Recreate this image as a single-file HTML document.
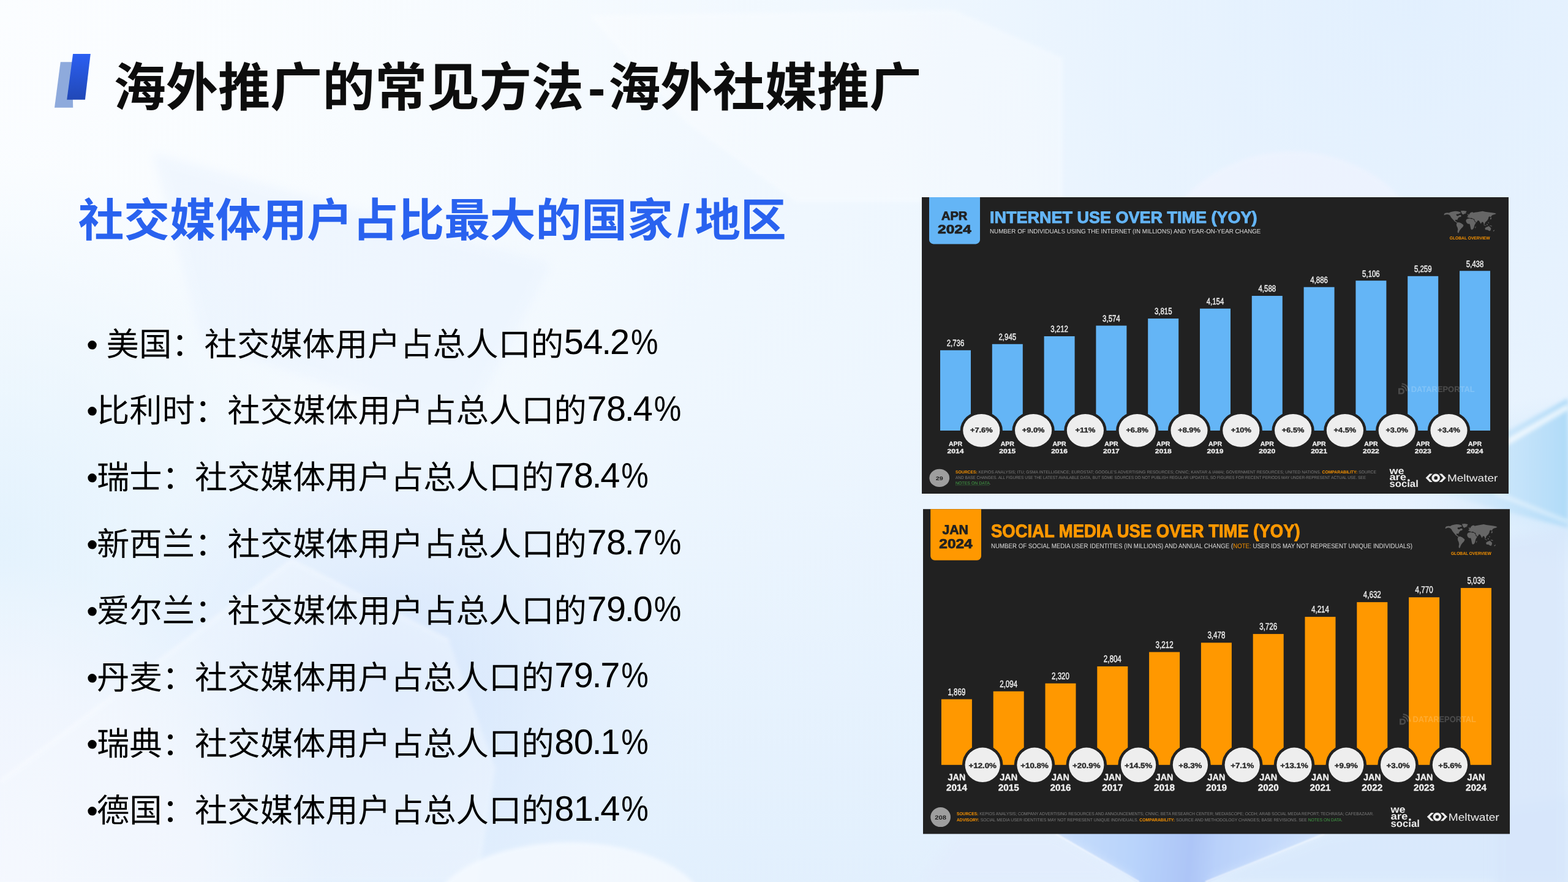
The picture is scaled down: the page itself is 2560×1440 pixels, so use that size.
<!DOCTYPE html>
<html lang="zh-CN"><head><meta charset="utf-8"><title>海外推广的常见方法-海外社媒推广</title>
<style>
html,body{margin:0;padding:0;}
body{width:2560px;height:1440px;overflow:hidden;position:relative;background:#eef5fe;font-family:"Liberation Sans",sans-serif;}
h1,h2,ul,li,figure{margin:0;padding:0;list-style:none;font-weight:normal;}
.layer,.gl{position:absolute;display:block;will-change:transform;}
.layer{left:0;top:0;}
svg text{font-family:"Liberation Sans",sans-serif;text-rendering:geometricPrecision;}
svg text.cjk{font-family:"Liberation Sans","Noto Sans CJK SC",sans-serif;}
.sr{position:absolute;white-space:nowrap;line-height:1.3;color:transparent;font-family:"Liberation Sans",sans-serif;}
.b{font-weight:bold;}
</style></head><body>

<svg class="layer" width="2560" height="1440" viewBox="0 0 2560 1440" aria-hidden="true">
<defs>
<linearGradient id="bgBase" x1="0" y1="0" x2="1" y2="0.55">
<stop offset="0" stop-color="#f8fcff"/><stop offset="0.5" stop-color="#eff7fe"/><stop offset="1" stop-color="#e8f3fe"/>
</linearGradient>
<linearGradient id="bgDown" x1="0" y1="0" x2="0" y2="1">
<stop offset="0.45" stop-color="#e3f0fd" stop-opacity="0"/><stop offset="1" stop-color="#e1effd" stop-opacity="0.9"/>
</linearGradient>
<radialGradient id="bgTL" cx="0" cy="0" r="1250" gradientUnits="userSpaceOnUse">
<stop offset="0" stop-color="#fbfdff" stop-opacity="0.95"/><stop offset="1" stop-color="#fbfdff" stop-opacity="0"/>
</radialGradient>
<radialGradient id="bgMid" cx="640" cy="1130" r="480" gradientUnits="userSpaceOnUse">
<stop offset="0" stop-color="#d3e4fc" stop-opacity="0.95"/><stop offset="1" stop-color="#deebfd" stop-opacity="0"/>
</radialGradient>
<radialGradient id="bgL" cx="0" cy="880" r="620" gradientUnits="userSpaceOnUse">
<stop offset="0" stop-color="#e3f2fd" stop-opacity="0.95"/><stop offset="1" stop-color="#e6f3fd" stop-opacity="0"/>
</radialGradient>
<radialGradient id="bgBL" cx="0" cy="1440" r="520" gradientUnits="userSpaceOnUse">
<stop offset="0" stop-color="#f4f7fe" stop-opacity="1"/><stop offset="0.6" stop-color="#f2f6fe" stop-opacity="0.8"/><stop offset="1" stop-color="#f2f6fe" stop-opacity="0"/>
</radialGradient>
<radialGradient id="bgR">
<stop offset="0" stop-color="#b0d8f9" stop-opacity="1"/><stop offset="0.5" stop-color="#bfe0fa" stop-opacity="0.75"/><stop offset="1" stop-color="#cfe8fc" stop-opacity="0"/>
</radialGradient>
<radialGradient id="bgTR" cx="2300" cy="0" r="900" gradientUnits="userSpaceOnUse">
<stop offset="0" stop-color="#e1effe" stop-opacity="0.9"/><stop offset="1" stop-color="#e1effe" stop-opacity="0"/>
</radialGradient>
<linearGradient id="bgWedge" x1="2330" y1="0" x2="2560" y2="0" gradientUnits="userSpaceOnUse">
<stop offset="0" stop-color="#cfe8fb" stop-opacity="0"/><stop offset="0.55" stop-color="#c6e4fa" stop-opacity="0.8"/><stop offset="1" stop-color="#b0dbf8" stop-opacity="1"/>
</linearGradient>
<linearGradient id="bgBR" x1="1724" y1="1380" x2="2162" y2="1420" gradientUnits="userSpaceOnUse">
<stop offset="0" stop-color="#c8defc"/><stop offset="0.3" stop-color="#b8d3fb"/><stop offset="0.5" stop-color="#adc5f7"/><stop offset="0.6" stop-color="#b9d1fa"/><stop offset="1" stop-color="#cfe2fc"/>
</linearGradient>
<filter id="blur8" x="-20%" y="-20%" width="140%" height="140%"><feGaussianBlur stdDeviation="8"/></filter>
<filter id="blur1" x="-5%" y="-20%" width="110%" height="140%"><feGaussianBlur stdDeviation="1.2"/></filter>
<filter id="blur3" x="-20%" y="-20%" width="140%" height="140%"><feGaussianBlur stdDeviation="3"/></filter>
</defs>
<rect width="2560" height="1440" fill="url(#bgBase)"/>
<rect width="2560" height="1440" fill="url(#bgDown)"/>
<rect width="2560" height="1440" fill="url(#bgTL)"/>
<rect width="2560" height="1440" fill="url(#bgTR)"/>
<rect width="2560" height="1440" fill="url(#bgL)"/>
<rect width="2560" height="1440" fill="url(#bgMid)"/>
<rect width="2560" height="1440" fill="url(#bgBL)"/>
<ellipse cx="2620" cy="790" rx="330" ry="150" fill="url(#bgR)" opacity="0.55"/>
<polygon points="2300,792 2560,650 2560,862" fill="url(#bgWedge)" filter="url(#blur3)"/>
<path d="M2440 734L2560 664" stroke="#ffffff" stroke-width="9" opacity="0.7" fill="none" filter="url(#blur3)"/>
<path d="M2440 804L2560 852" stroke="#ffffff" stroke-width="7" opacity="0.4" fill="none" filter="url(#blur3)"/>
<polygon points="962,25 1557,16 1735,94 1735,330 1300,330 1120,200" fill="#ffffff" opacity="0.32" filter="url(#blur3)"/>
<circle cx="2110" cy="492" r="245" fill="#f7f5fe" opacity="0.4" filter="url(#blur3)"/>
<polygon points="250,250 900,430 760,700 330,560" fill="#e8f2fe" opacity="0.5" filter="url(#blur8)"/>
<polygon points="0,1276 476,915 733,1046 809,1254 780,1440 0,1440" fill="#f6faff" opacity="0.38" filter="url(#blur3)"/>
<path d="M0 1276L476 915L733 1046" stroke="#ffffff" stroke-width="3" opacity="0.55" fill="none" filter="url(#blur3)"/>
<ellipse cx="930" cy="1500" rx="230" ry="125" fill="#f6faff" opacity="0.8" filter="url(#blur3)"/>
<polygon points="1724,1360 2162,1360 1968,1442 1860,1442" fill="url(#bgBR)" filter="url(#blur1)"/>
<path d="M1724 1362L1860 1440M2162 1362L1968 1440" stroke="#ffffff" stroke-width="2.5" opacity="0.75" fill="none" filter="url(#blur1)"/>
<polygon points="1560,1362 1724,1362 1860,1440 1500,1440" fill="#e2edfd" opacity="0.8" filter="url(#blur8)"/>
<polygon points="2162,1362 2560,1300 2560,1440 1968,1440" fill="#d8e8fc" opacity="0.8" filter="url(#blur8)"/>
<polygon points="2440,880 2560,860 2560,1460 2440,1460" fill="#d7e6fb" opacity="0.7" filter="url(#blur8)"/>
</svg>

<svg class="layer" width="2560" height="1440" viewBox="0 0 2560 1440" aria-hidden="true">
<defs><linearGradient id="tIcon" x1="0" y1="0" x2="0" y2="1"><stop offset="0" stop-color="#2b5ff2"/><stop offset="1" stop-color="#2148b6"/></linearGradient></defs>
<polygon points="98.8,101.2 118,101.2 119.2,175.8 89,175.8" fill="#8eaadc"/>
<polygon points="119.1,88.1 147.8,88.1 138.9,162.7 109.2,162.7" fill="url(#tIcon)"/>
</svg>
<h1><svg class="gl" style="left:170px;top:80px" width="1360" height="120" viewBox="170 80 1360 120"><text class="cjk b" y="172.5" font-size="85.3" fill="#0d0d0d"><tspan x="185.4">海外推广的常见方法</tspan><tspan x="959.9">-</tspan><tspan x="992.9">海外社媒推广</tspan></text></svg><span class="sr" style="left:187px;top:82px;font-size:85.3px;font-weight:bold">海外推广的常见方法-海外社媒推广</span></h1>
<h2><svg class="gl" style="left:110px;top:300px" width="1200" height="110" viewBox="110 300 1200 110"><text class="cjk b" y="385.8" font-size="74.7" fill="#2962ef"><tspan x="127.7">社交媒体用户占比最大的国家</tspan><tspan x="1105.6">/</tspan><tspan x="1134.3">地区</tspan></text></svg><span class="sr" style="left:128px;top:306px;font-size:74.7px;font-weight:bold">社交媒体用户占比最大的国家/地区</span></h2>
<ul>
<li><svg class="gl" style="left:130px;top:509px" width="860" height="100" viewBox="130 509 860 100"><text class="cjk" x="150.7" y="580.57" font-size="53.33" fill="#000" text-anchor="middle">•</text><text class="cjk" x="173.6" y="580.57" font-size="53.33" fill="#000">美国：社交媒体用户占总人口的</text></svg><span class="sr" style="left:143px;top:523.7px;font-size:53.3px">• 美国：社交媒体用户占总人口的</span><svg class="gl" style="left:917px;top:509px" width="180" height="100" viewBox="917 509 180 100"><text x="936.81 968.31 990.16 1012.01" y="578.3" text-anchor="middle" font-size="57.7">54.2</text><text x="1029.96" y="578.3" font-size="57.7" textLength="44.5" lengthAdjust="spacingAndGlyphs">%</text></svg></li>
<li><svg class="gl" style="left:130px;top:618px" width="860" height="100" viewBox="130 618 860 100"><text class="cjk" x="150.7" y="689.37" font-size="53.33" fill="#000" text-anchor="middle">•</text><text class="cjk" x="158" y="689.37" font-size="53.33" fill="#000">比利时：社交媒体用户占总人口的</text></svg><span class="sr" style="left:143px;top:632.5px;font-size:53.3px">•比利时：社交媒体用户占总人口的</span><svg class="gl" style="left:954px;top:618px" width="180" height="100" viewBox="954 618 180 100"><text x="974.54 1006.04 1027.89 1049.74" y="687.1" text-anchor="middle" font-size="57.7">78.4</text><text x="1067.69" y="687.1" font-size="57.7" textLength="44.5" lengthAdjust="spacingAndGlyphs">%</text></svg></li>
<li><svg class="gl" style="left:130px;top:727px" width="860" height="100" viewBox="130 727 860 100"><text class="cjk" x="150.7" y="798.17" font-size="53.33" fill="#000" text-anchor="middle">•</text><text class="cjk" x="158" y="798.17" font-size="53.33" fill="#000">瑞士：社交媒体用户占总人口的</text></svg><span class="sr" style="left:143px;top:741.3px;font-size:53.3px">•瑞士：社交媒体用户占总人口的</span><svg class="gl" style="left:901px;top:727px" width="180" height="100" viewBox="901 727 180 100"><text x="921.21 952.71 974.56 996.41" y="795.9" text-anchor="middle" font-size="57.7">78.4</text><text x="1014.36" y="795.9" font-size="57.7" textLength="44.5" lengthAdjust="spacingAndGlyphs">%</text></svg></li>
<li><svg class="gl" style="left:130px;top:836px" width="860" height="100" viewBox="130 836 860 100"><text class="cjk" x="150.7" y="906.97" font-size="53.33" fill="#000" text-anchor="middle">•</text><text class="cjk" x="158" y="906.97" font-size="53.33" fill="#000">新西兰：社交媒体用户占总人口的</text></svg><span class="sr" style="left:143px;top:850.1px;font-size:53.3px">•新西兰：社交媒体用户占总人口的</span><svg class="gl" style="left:954px;top:836px" width="180" height="100" viewBox="954 836 180 100"><text x="974.54 1006.04 1027.89 1049.74" y="904.7" text-anchor="middle" font-size="57.7">78.7</text><text x="1067.69" y="904.7" font-size="57.7" textLength="44.5" lengthAdjust="spacingAndGlyphs">%</text></svg></li>
<li><svg class="gl" style="left:130px;top:944px" width="860" height="100" viewBox="130 944 860 100"><text class="cjk" x="150.7" y="1015.77" font-size="53.33" fill="#000" text-anchor="middle">•</text><text class="cjk" x="158" y="1015.77" font-size="53.33" fill="#000">爱尔兰：社交媒体用户占总人口的</text></svg><span class="sr" style="left:143px;top:958.9px;font-size:53.3px">•爱尔兰：社交媒体用户占总人口的</span><svg class="gl" style="left:954px;top:944px" width="180" height="100" viewBox="954 944 180 100"><text x="974.54 1006.04 1027.89 1049.74" y="1013.5" text-anchor="middle" font-size="57.7">79.0</text><text x="1067.69" y="1013.5" font-size="57.7" textLength="44.5" lengthAdjust="spacingAndGlyphs">%</text></svg></li>
<li><svg class="gl" style="left:130px;top:1053px" width="860" height="100" viewBox="130 1053 860 100"><text class="cjk" x="150.7" y="1124.57" font-size="53.33" fill="#000" text-anchor="middle">•</text><text class="cjk" x="158" y="1124.57" font-size="53.33" fill="#000">丹麦：社交媒体用户占总人口的</text></svg><span class="sr" style="left:143px;top:1067.7px;font-size:53.3px">•丹麦：社交媒体用户占总人口的</span><svg class="gl" style="left:901px;top:1053px" width="180" height="100" viewBox="901 1053 180 100"><text x="921.21 952.71 974.56 996.41" y="1122.3" text-anchor="middle" font-size="57.7">79.7</text><text x="1014.36" y="1122.3" font-size="57.7" textLength="44.5" lengthAdjust="spacingAndGlyphs">%</text></svg></li>
<li><svg class="gl" style="left:130px;top:1162px" width="860" height="100" viewBox="130 1162 860 100"><text class="cjk" x="150.7" y="1233.37" font-size="53.33" fill="#000" text-anchor="middle">•</text><text class="cjk" x="158" y="1233.37" font-size="53.33" fill="#000">瑞典：社交媒体用户占总人口的</text></svg><span class="sr" style="left:143px;top:1176.5px;font-size:53.3px">•瑞典：社交媒体用户占总人口的</span><svg class="gl" style="left:901px;top:1162px" width="180" height="100" viewBox="901 1162 180 100"><text x="921.21 952.71 974.56 996.41" y="1231.1" text-anchor="middle" font-size="57.7">80.1</text><text x="1014.36" y="1231.1" font-size="57.7" textLength="44.5" lengthAdjust="spacingAndGlyphs">%</text></svg></li>
<li><svg class="gl" style="left:130px;top:1271px" width="860" height="100" viewBox="130 1271 860 100"><text class="cjk" x="150.7" y="1342.17" font-size="53.33" fill="#000" text-anchor="middle">•</text><text class="cjk" x="158" y="1342.17" font-size="53.33" fill="#000">德国：社交媒体用户占总人口的</text></svg><span class="sr" style="left:143px;top:1285.3px;font-size:53.3px">•德国：社交媒体用户占总人口的</span><svg class="gl" style="left:901px;top:1271px" width="180" height="100" viewBox="901 1271 180 100"><text x="921.21 952.71 974.56 996.41" y="1339.9" text-anchor="middle" font-size="57.7">81.4</text><text x="1014.36" y="1339.9" font-size="57.7" textLength="44.5" lengthAdjust="spacingAndGlyphs">%</text></svg></li>
</ul>
<figure><svg class="gl" style="left:1500px;top:316px" width="970" height="496" viewBox="1500 316 970 496"><rect x="1505" y="322" width="958" height="484" fill="#212121"/>
<path d="M1517 322H1600V391.4a7 7 0 0 1 -7 7H1524a7 7 0 0 1 -7 -7z" fill="#64b5f6"/>
<text x="1536.9" y="358.9" font-size="19.8" fill="#212121" textLength="42.5" lengthAdjust="spacingAndGlyphs" class="b" stroke="#212121" stroke-width="0.8" stroke-linejoin="round">APR</text>
<text x="1531" y="380.6" font-size="19.8" fill="#212121" textLength="54.6" lengthAdjust="spacingAndGlyphs" class="b" stroke="#212121" stroke-width="0.8" stroke-linejoin="round">2024</text>
<text x="1616" y="363.9" font-size="26.8" fill="#64b5f6" textLength="436.6" lengthAdjust="spacingAndGlyphs" class="b" stroke="#64b5f6" stroke-width="1" stroke-linejoin="round">INTERNET USE OVER TIME (YOY)</text>
<text x="1616" y="380.6" font-size="10.2" fill="#dcdcdc" textLength="442.4" lengthAdjust="spacingAndGlyphs">NUMBER OF INDIVIDUALS USING THE INTERNET (IN MILLIONS) AND YEAR-ON-YEAR CHANGE</text>
<g fill="#666" transform="translate(2357.3 343.9) scale(0.07066 0.06465)"><polygon points="5,90 23,63 75,53 120,57 155,35 215,21 265,13 315,17 355,30 390,45 380,70 350,75 335,90 305,85 285,100 295,125 325,135 355,115 390,110 405,135 390,155 355,165 335,185 320,210 310,237 295,230 260,233 263,257 287,275 307,291 321,305 305,309 275,287 245,267 223,237 195,207 165,167 145,127 115,103 75,93 35,103 5,117"/><polygon points="390,7 455,0 527,13 517,40 490,70 450,97 425,85 407,50"/><polygon points="305,305 345,295 395,315 445,355 455,375 435,415 405,445 375,485 355,525 340,565 320,560 315,525 325,475 315,425 295,385 290,345"/><polygon points="545,175 540,150 565,135 555,115 585,100 595,75 625,45 665,35 685,55 715,45 775,35 855,20 895,15 955,30 1035,40 1115,50 1185,65 1210,80 1175,95 1135,105 1105,125 1085,165 1055,145 1035,165 1025,205 1005,245 975,275 955,295 945,335 925,345 915,305 895,285 875,295 855,335 835,295 815,255 785,245 765,285 745,295 715,255 705,215 675,205 655,190 625,185 605,195 585,175 575,190 560,165"/><polygon points="515,235 535,210 585,200 625,205 675,215 700,245 715,285 745,305 725,335 705,375 695,425 675,465 645,485 625,465 615,415 605,365 595,335 555,335 525,305 510,265"/><polygon points="725,405 740,395 735,435 720,445"/><polygon points="955,435 985,415 1015,405 1035,390 1065,415 1090,445 1085,485 1065,515 1035,505 1005,485 965,485 950,460"/><polygon points="1140,500 1175,485 1165,510 1140,530"/><polygon points="915,345 955,365 985,380 955,380 920,360"/><polygon points="985,335 1015,345 1010,370 990,360"/><polygon points="1025,285 1040,295 1035,325 1023,310"/><polygon points="1055,370 1105,380 1115,400 1070,390"/><polygon points="1075,185 1095,165 1100,205 1080,225 1070,215"/><polygon points="550,85 565,80 567,115 550,120"/><polygon points="495,65 515,63 513,75 495,77"/></g>
<text x="2366.8" y="391" font-size="7" fill="#f59100" textLength="65.8" lengthAdjust="spacingAndGlyphs" class="b">GLOBAL OVERVIEW</text>
<rect x="1535" y="571.81" width="50" height="131.19" fill="#64b5f6"/>
<rect x="1619.8" y="561.79" width="50" height="141.21" fill="#64b5f6"/>
<rect x="1704.6" y="548.98" width="50" height="154.02" fill="#64b5f6"/>
<rect x="1789.4" y="531.63" width="50" height="171.37" fill="#64b5f6"/>
<rect x="1874.2" y="520.07" width="50" height="182.93" fill="#64b5f6"/>
<rect x="1959" y="503.82" width="50" height="199.18" fill="#64b5f6"/>
<rect x="2043.8" y="483.01" width="50" height="219.99" fill="#64b5f6"/>
<rect x="2128.6" y="468.72" width="50" height="234.28" fill="#64b5f6"/>
<rect x="2213.4" y="458.17" width="50" height="244.83" fill="#64b5f6"/>
<rect x="2298.2" y="450.83" width="50" height="252.17" fill="#64b5f6"/>
<rect x="2383" y="442.25" width="50" height="260.75" fill="#64b5f6"/>
<g opacity="0.19" fill="#fff"><path d="M2283 633.8h5.2a4.9 4.9 0 0 1 0 9.8h-5.2z M2285.6 636.2v5h2.4a2.5 2.5 0 0 0 0-5z" fill-rule="evenodd"/><path d="M2288.2 630.2a8.6 8.6 0 0 1 8 8.4" fill="none" stroke="#fff" stroke-width="2.2"/><path d="M2288.6 626.5a12.4 12.4 0 0 1 11.6 12.1" fill="none" stroke="#fff" stroke-width="2.2"/><text x="2303.7" y="639.8" font-size="13.4" fill="#fff" textLength="103.9" lengthAdjust="spacingAndGlyphs" class="b">DATAREPORTAL</text></g>
<text x="1560" y="565.21" font-size="14.8" fill="#ededed" text-anchor="middle" textLength="28.6" lengthAdjust="spacingAndGlyphs" stroke="#ededed" stroke-width="0.45" stroke-linejoin="round">2,736</text>
<text x="1560" y="727.8" font-size="10.2" fill="#ededed" text-anchor="middle" textLength="22.2" lengthAdjust="spacingAndGlyphs" class="b" stroke="#ededed" stroke-width="0.3" stroke-linejoin="round">APR</text>
<text x="1560" y="740" font-size="10.2" fill="#ededed" text-anchor="middle" textLength="26.9" lengthAdjust="spacingAndGlyphs" class="b" stroke="#ededed" stroke-width="0.3" stroke-linejoin="round">2014</text>
<text x="1644.8" y="555.19" font-size="14.8" fill="#ededed" text-anchor="middle" textLength="28.6" lengthAdjust="spacingAndGlyphs" stroke="#ededed" stroke-width="0.45" stroke-linejoin="round">2,945</text>
<text x="1644.8" y="727.8" font-size="10.2" fill="#ededed" text-anchor="middle" textLength="22.2" lengthAdjust="spacingAndGlyphs" class="b" stroke="#ededed" stroke-width="0.3" stroke-linejoin="round">APR</text>
<text x="1644.8" y="740" font-size="10.2" fill="#ededed" text-anchor="middle" textLength="26.9" lengthAdjust="spacingAndGlyphs" class="b" stroke="#ededed" stroke-width="0.3" stroke-linejoin="round">2015</text>
<text x="1729.6" y="542.38" font-size="14.8" fill="#ededed" text-anchor="middle" textLength="28.6" lengthAdjust="spacingAndGlyphs" stroke="#ededed" stroke-width="0.45" stroke-linejoin="round">3,212</text>
<text x="1729.6" y="727.8" font-size="10.2" fill="#ededed" text-anchor="middle" textLength="22.2" lengthAdjust="spacingAndGlyphs" class="b" stroke="#ededed" stroke-width="0.3" stroke-linejoin="round">APR</text>
<text x="1729.6" y="740" font-size="10.2" fill="#ededed" text-anchor="middle" textLength="26.9" lengthAdjust="spacingAndGlyphs" class="b" stroke="#ededed" stroke-width="0.3" stroke-linejoin="round">2016</text>
<text x="1814.4" y="525.03" font-size="14.8" fill="#ededed" text-anchor="middle" textLength="28.6" lengthAdjust="spacingAndGlyphs" stroke="#ededed" stroke-width="0.45" stroke-linejoin="round">3,574</text>
<text x="1814.4" y="727.8" font-size="10.2" fill="#ededed" text-anchor="middle" textLength="22.2" lengthAdjust="spacingAndGlyphs" class="b" stroke="#ededed" stroke-width="0.3" stroke-linejoin="round">APR</text>
<text x="1814.4" y="740" font-size="10.2" fill="#ededed" text-anchor="middle" textLength="26.9" lengthAdjust="spacingAndGlyphs" class="b" stroke="#ededed" stroke-width="0.3" stroke-linejoin="round">2017</text>
<text x="1899.2" y="513.47" font-size="14.8" fill="#ededed" text-anchor="middle" textLength="28.6" lengthAdjust="spacingAndGlyphs" stroke="#ededed" stroke-width="0.45" stroke-linejoin="round">3,815</text>
<text x="1899.2" y="727.8" font-size="10.2" fill="#ededed" text-anchor="middle" textLength="22.2" lengthAdjust="spacingAndGlyphs" class="b" stroke="#ededed" stroke-width="0.3" stroke-linejoin="round">APR</text>
<text x="1899.2" y="740" font-size="10.2" fill="#ededed" text-anchor="middle" textLength="26.9" lengthAdjust="spacingAndGlyphs" class="b" stroke="#ededed" stroke-width="0.3" stroke-linejoin="round">2018</text>
<text x="1984" y="497.22" font-size="14.8" fill="#ededed" text-anchor="middle" textLength="28.6" lengthAdjust="spacingAndGlyphs" stroke="#ededed" stroke-width="0.45" stroke-linejoin="round">4,154</text>
<text x="1984" y="727.8" font-size="10.2" fill="#ededed" text-anchor="middle" textLength="22.2" lengthAdjust="spacingAndGlyphs" class="b" stroke="#ededed" stroke-width="0.3" stroke-linejoin="round">APR</text>
<text x="1984" y="740" font-size="10.2" fill="#ededed" text-anchor="middle" textLength="26.9" lengthAdjust="spacingAndGlyphs" class="b" stroke="#ededed" stroke-width="0.3" stroke-linejoin="round">2019</text>
<text x="2068.8" y="476.41" font-size="14.8" fill="#ededed" text-anchor="middle" textLength="28.6" lengthAdjust="spacingAndGlyphs" stroke="#ededed" stroke-width="0.45" stroke-linejoin="round">4,588</text>
<text x="2068.8" y="727.8" font-size="10.2" fill="#ededed" text-anchor="middle" textLength="22.2" lengthAdjust="spacingAndGlyphs" class="b" stroke="#ededed" stroke-width="0.3" stroke-linejoin="round">APR</text>
<text x="2068.8" y="740" font-size="10.2" fill="#ededed" text-anchor="middle" textLength="26.9" lengthAdjust="spacingAndGlyphs" class="b" stroke="#ededed" stroke-width="0.3" stroke-linejoin="round">2020</text>
<text x="2153.6" y="462.12" font-size="14.8" fill="#ededed" text-anchor="middle" textLength="28.6" lengthAdjust="spacingAndGlyphs" stroke="#ededed" stroke-width="0.45" stroke-linejoin="round">4,886</text>
<text x="2153.6" y="727.8" font-size="10.2" fill="#ededed" text-anchor="middle" textLength="22.2" lengthAdjust="spacingAndGlyphs" class="b" stroke="#ededed" stroke-width="0.3" stroke-linejoin="round">APR</text>
<text x="2153.6" y="740" font-size="10.2" fill="#ededed" text-anchor="middle" textLength="26.9" lengthAdjust="spacingAndGlyphs" class="b" stroke="#ededed" stroke-width="0.3" stroke-linejoin="round">2021</text>
<text x="2238.4" y="451.57" font-size="14.8" fill="#ededed" text-anchor="middle" textLength="28.6" lengthAdjust="spacingAndGlyphs" stroke="#ededed" stroke-width="0.45" stroke-linejoin="round">5,106</text>
<text x="2238.4" y="727.8" font-size="10.2" fill="#ededed" text-anchor="middle" textLength="22.2" lengthAdjust="spacingAndGlyphs" class="b" stroke="#ededed" stroke-width="0.3" stroke-linejoin="round">APR</text>
<text x="2238.4" y="740" font-size="10.2" fill="#ededed" text-anchor="middle" textLength="26.9" lengthAdjust="spacingAndGlyphs" class="b" stroke="#ededed" stroke-width="0.3" stroke-linejoin="round">2022</text>
<text x="2323.2" y="444.23" font-size="14.8" fill="#ededed" text-anchor="middle" textLength="28.6" lengthAdjust="spacingAndGlyphs" stroke="#ededed" stroke-width="0.45" stroke-linejoin="round">5,259</text>
<text x="2323.2" y="727.8" font-size="10.2" fill="#ededed" text-anchor="middle" textLength="22.2" lengthAdjust="spacingAndGlyphs" class="b" stroke="#ededed" stroke-width="0.3" stroke-linejoin="round">APR</text>
<text x="2323.2" y="740" font-size="10.2" fill="#ededed" text-anchor="middle" textLength="26.9" lengthAdjust="spacingAndGlyphs" class="b" stroke="#ededed" stroke-width="0.3" stroke-linejoin="round">2023</text>
<text x="2408" y="435.65" font-size="14.8" fill="#ededed" text-anchor="middle" textLength="28.6" lengthAdjust="spacingAndGlyphs" stroke="#ededed" stroke-width="0.45" stroke-linejoin="round">5,438</text>
<text x="2408" y="727.8" font-size="10.2" fill="#ededed" text-anchor="middle" textLength="22.2" lengthAdjust="spacingAndGlyphs" class="b" stroke="#ededed" stroke-width="0.3" stroke-linejoin="round">APR</text>
<text x="2408" y="740" font-size="10.2" fill="#ededed" text-anchor="middle" textLength="26.9" lengthAdjust="spacingAndGlyphs" class="b" stroke="#ededed" stroke-width="0.3" stroke-linejoin="round">2024</text>
<ellipse cx="1602.3" cy="702.8" rx="34.6" ry="31.2" fill="#212121"/>
<ellipse cx="1602.3" cy="702.8" rx="30.1" ry="26.9" fill="#eee"/>
<text x="1602.3" y="706.4" font-size="11.5" fill="#2b2b2b" text-anchor="middle" textLength="36.6" lengthAdjust="spacingAndGlyphs" class="b" stroke="#2b2b2b" stroke-width="0.4" stroke-linejoin="round">+7.6%</text>
<ellipse cx="1687.1" cy="702.8" rx="34.6" ry="31.2" fill="#212121"/>
<ellipse cx="1687.1" cy="702.8" rx="30.1" ry="26.9" fill="#eee"/>
<text x="1687.1" y="706.4" font-size="11.5" fill="#2b2b2b" text-anchor="middle" textLength="36.6" lengthAdjust="spacingAndGlyphs" class="b" stroke="#2b2b2b" stroke-width="0.4" stroke-linejoin="round">+9.0%</text>
<ellipse cx="1771.9" cy="702.8" rx="34.6" ry="31.2" fill="#212121"/>
<ellipse cx="1771.9" cy="702.8" rx="30.1" ry="26.9" fill="#eee"/>
<text x="1771.9" y="706.4" font-size="11.5" fill="#2b2b2b" text-anchor="middle" textLength="33.05" lengthAdjust="spacingAndGlyphs" class="b" stroke="#2b2b2b" stroke-width="0.4" stroke-linejoin="round">+11%</text>
<ellipse cx="1856.7" cy="702.8" rx="34.6" ry="31.2" fill="#212121"/>
<ellipse cx="1856.7" cy="702.8" rx="30.1" ry="26.9" fill="#eee"/>
<text x="1856.7" y="706.4" font-size="11.5" fill="#2b2b2b" text-anchor="middle" textLength="36.6" lengthAdjust="spacingAndGlyphs" class="b" stroke="#2b2b2b" stroke-width="0.4" stroke-linejoin="round">+6.8%</text>
<ellipse cx="1941.5" cy="702.8" rx="34.6" ry="31.2" fill="#212121"/>
<ellipse cx="1941.5" cy="702.8" rx="30.1" ry="26.9" fill="#eee"/>
<text x="1941.5" y="706.4" font-size="11.5" fill="#2b2b2b" text-anchor="middle" textLength="36.6" lengthAdjust="spacingAndGlyphs" class="b" stroke="#2b2b2b" stroke-width="0.4" stroke-linejoin="round">+8.9%</text>
<ellipse cx="2026.3" cy="702.8" rx="34.6" ry="31.2" fill="#212121"/>
<ellipse cx="2026.3" cy="702.8" rx="30.1" ry="26.9" fill="#eee"/>
<text x="2026.3" y="706.4" font-size="11.5" fill="#2b2b2b" text-anchor="middle" textLength="33.05" lengthAdjust="spacingAndGlyphs" class="b" stroke="#2b2b2b" stroke-width="0.4" stroke-linejoin="round">+10%</text>
<ellipse cx="2111.1" cy="702.8" rx="34.6" ry="31.2" fill="#212121"/>
<ellipse cx="2111.1" cy="702.8" rx="30.1" ry="26.9" fill="#eee"/>
<text x="2111.1" y="706.4" font-size="11.5" fill="#2b2b2b" text-anchor="middle" textLength="36.6" lengthAdjust="spacingAndGlyphs" class="b" stroke="#2b2b2b" stroke-width="0.4" stroke-linejoin="round">+6.5%</text>
<ellipse cx="2195.9" cy="702.8" rx="34.6" ry="31.2" fill="#212121"/>
<ellipse cx="2195.9" cy="702.8" rx="30.1" ry="26.9" fill="#eee"/>
<text x="2195.9" y="706.4" font-size="11.5" fill="#2b2b2b" text-anchor="middle" textLength="36.6" lengthAdjust="spacingAndGlyphs" class="b" stroke="#2b2b2b" stroke-width="0.4" stroke-linejoin="round">+4.5%</text>
<ellipse cx="2280.7" cy="702.8" rx="34.6" ry="31.2" fill="#212121"/>
<ellipse cx="2280.7" cy="702.8" rx="30.1" ry="26.9" fill="#eee"/>
<text x="2280.7" y="706.4" font-size="11.5" fill="#2b2b2b" text-anchor="middle" textLength="36.6" lengthAdjust="spacingAndGlyphs" class="b" stroke="#2b2b2b" stroke-width="0.4" stroke-linejoin="round">+3.0%</text>
<ellipse cx="2365.5" cy="702.8" rx="34.6" ry="31.2" fill="#212121"/>
<ellipse cx="2365.5" cy="702.8" rx="30.1" ry="26.9" fill="#eee"/>
<text x="2365.5" y="706.4" font-size="11.5" fill="#2b2b2b" text-anchor="middle" textLength="36.6" lengthAdjust="spacingAndGlyphs" class="b" stroke="#2b2b2b" stroke-width="0.4" stroke-linejoin="round">+3.4%</text>
<ellipse cx="1533.75" cy="780.4" rx="16.4" ry="14.6" fill="#9e9e9e"/>
<text x="1533.75" y="783.7" font-size="8.6" fill="#212121" text-anchor="middle" textLength="12" lengthAdjust="spacingAndGlyphs" class="b">29</text>
<text x="1560" y="773.3" font-size="7" textLength="687" lengthAdjust="spacingAndGlyphs" xml:space="preserve"><tspan fill="#f59100" class="b">SOURCES:</tspan><tspan fill="#7c7c7c"> KEPIOS ANALYSIS; ITU; GSMA INTELLIGENCE; EUROSTAT; GOOGLE’S ADVERTISING RESOURCES; CNNIC; KANTAR &amp; IAMAI; GOVERNMENT RESOURCES; UNITED NATIONS.</tspan><tspan fill="#f59100" class="b"> COMPARABILITY:</tspan><tspan fill="#7c7c7c"> SOURCE</tspan></text>
<text x="1560" y="782" font-size="7" textLength="670" lengthAdjust="spacingAndGlyphs" xml:space="preserve"><tspan fill="#7c7c7c">AND BASE CHANGES. ALL FIGURES USE THE LATEST AVAILABLE DATA, BUT SOME SOURCES DO NOT PUBLISH REGULAR UPDATES, SO FIGURES FOR RECENT PERIODS MAY UNDER-REPRESENT ACTUAL USE. SEE</tspan></text>
<text x="1560" y="790.7" font-size="7" textLength="57.75" lengthAdjust="spacingAndGlyphs" xml:space="preserve"><tspan fill="#43a047">NOTES ON DATA</tspan><tspan fill="#7c7c7c">.</tspan></text>
<line x1="1560" y1="792.3" x2="1616" y2="792.3" stroke="#3f9143" stroke-width="0.7" stroke-dasharray="1 1"/>
<text x="2268.4" y="773.9" font-size="15.7" fill="#ebebeb" textLength="24" lengthAdjust="spacingAndGlyphs" class="b">we</text><text x="2268.4" y="784.4" font-size="15.7" fill="#ebebeb" textLength="27.6" lengthAdjust="spacingAndGlyphs" class="b">are</text><circle cx="2299.9" cy="784.2" r="1.9" fill="#ebebeb"/><text x="2268.4" y="795" font-size="15.7" fill="#ebebeb" textLength="47.4" lengthAdjust="spacingAndGlyphs" class="b">social</text>
<g fill="#ebebeb"><polygon points="2360.8,780.2 2354.2,773.6 2349.6,773.6 2356.1,780.2 2349.6,786.9 2354.2,786.9"/><polygon points="2327.6,780.2 2334.2,773.6 2338.8,773.6 2332.3,780.2 2338.8,786.9 2334.2,786.9"/><circle cx="2344.2" cy="780.2" r="4.85" fill="none" stroke="#ebebeb" stroke-width="3.9"/></g><text x="2363" y="786.1" font-size="16.3" fill="#ebebeb" textLength="82.3" lengthAdjust="spacingAndGlyphs">Meltwater</text></svg></figure>
<figure><svg class="gl" style="left:1500px;top:825px" width="970" height="543" viewBox="1500 825 970 543"><rect x="1507" y="831.2" width="958" height="530.3" fill="#212121"/>
<path d="M1519.2 831.2H1602V907.8a7 7 0 0 1 -7 7H1526.2a7 7 0 0 1 -7 -7z" fill="#ff9800"/>
<text x="1538.4" y="871.6" font-size="21.4" fill="#212121" textLength="42.5" lengthAdjust="spacingAndGlyphs" class="b" stroke="#212121" stroke-width="0.8" stroke-linejoin="round">JAN</text>
<text x="1533.3" y="894.7" font-size="21.4" fill="#212121" textLength="54.4" lengthAdjust="spacingAndGlyphs" class="b" stroke="#212121" stroke-width="0.8" stroke-linejoin="round">2024</text>
<text x="1618" y="877" font-size="29.9" fill="#ff9800" textLength="504.6" lengthAdjust="spacingAndGlyphs" class="b" stroke="#ff9800" stroke-width="1" stroke-linejoin="round">SOCIAL MEDIA USE OVER TIME (YOY)</text>
<text x="1618" y="895.3" font-size="10.9" fill="#dcdcdc" textLength="688" lengthAdjust="spacingAndGlyphs">NUMBER OF SOCIAL MEDIA USER IDENTITIES (IN MILLIONS) AND ANNUAL CHANGE (<tspan fill="#f59100">NOTE:</tspan> USER IDS MAY NOT REPRESENT UNIQUE INDIVIDUALS)</text>
<g fill="#666" transform="translate(2359.4 855) scale(0.07033 0.07033)"><polygon points="5,90 23,63 75,53 120,57 155,35 215,21 265,13 315,17 355,30 390,45 380,70 350,75 335,90 305,85 285,100 295,125 325,135 355,115 390,110 405,135 390,155 355,165 335,185 320,210 310,237 295,230 260,233 263,257 287,275 307,291 321,305 305,309 275,287 245,267 223,237 195,207 165,167 145,127 115,103 75,93 35,103 5,117"/><polygon points="390,7 455,0 527,13 517,40 490,70 450,97 425,85 407,50"/><polygon points="305,305 345,295 395,315 445,355 455,375 435,415 405,445 375,485 355,525 340,565 320,560 315,525 325,475 315,425 295,385 290,345"/><polygon points="545,175 540,150 565,135 555,115 585,100 595,75 625,45 665,35 685,55 715,45 775,35 855,20 895,15 955,30 1035,40 1115,50 1185,65 1210,80 1175,95 1135,105 1105,125 1085,165 1055,145 1035,165 1025,205 1005,245 975,275 955,295 945,335 925,345 915,305 895,285 875,295 855,335 835,295 815,255 785,245 765,285 745,295 715,255 705,215 675,205 655,190 625,185 605,195 585,175 575,190 560,165"/><polygon points="515,235 535,210 585,200 625,205 675,215 700,245 715,285 745,305 725,335 705,375 695,425 675,465 645,485 625,465 615,415 605,365 595,335 555,335 525,305 510,265"/><polygon points="725,405 740,395 735,435 720,445"/><polygon points="955,435 985,415 1015,405 1035,390 1065,415 1090,445 1085,485 1065,515 1035,505 1005,485 965,485 950,460"/><polygon points="1140,500 1175,485 1165,510 1140,530"/><polygon points="915,345 955,365 985,380 955,380 920,360"/><polygon points="985,335 1015,345 1010,370 990,360"/><polygon points="1025,285 1040,295 1035,325 1023,310"/><polygon points="1055,370 1105,380 1115,400 1070,390"/><polygon points="1075,185 1095,165 1100,205 1080,225 1070,215"/><polygon points="550,85 565,80 567,115 550,120"/><polygon points="495,65 515,63 513,75 495,77"/></g>
<text x="2368.9" y="906.3" font-size="7.3" fill="#f59100" textLength="65.8" lengthAdjust="spacingAndGlyphs" class="b">GLOBAL OVERVIEW</text>
<rect x="1536.9" y="1141.59" width="50" height="107.21" fill="#ff9800"/>
<rect x="1621.7" y="1128.69" width="50" height="120.11" fill="#ff9800"/>
<rect x="1706.5" y="1115.72" width="50" height="133.08" fill="#ff9800"/>
<rect x="1791.3" y="1087.96" width="50" height="160.84" fill="#ff9800"/>
<rect x="1876.1" y="1064.56" width="50" height="184.24" fill="#ff9800"/>
<rect x="1960.9" y="1049.3" width="50" height="199.5" fill="#ff9800"/>
<rect x="2045.7" y="1035.08" width="50" height="213.72" fill="#ff9800"/>
<rect x="2130.5" y="1007.08" width="50" height="241.72" fill="#ff9800"/>
<rect x="2215.3" y="983.11" width="50" height="265.69" fill="#ff9800"/>
<rect x="2300.1" y="975.19" width="50" height="273.61" fill="#ff9800"/>
<rect x="2384.9" y="959.94" width="50" height="288.86" fill="#ff9800"/>
<g opacity="0.19" fill="#fff"><path d="M2285.1 1173.4h5.2a4.9 4.9 0 0 1 0 9.8h-5.2z M2287.7 1175.8v5h2.4a2.5 2.5 0 0 0 0-5z" fill-rule="evenodd"/><path d="M2290.3 1169.8a8.6 8.6 0 0 1 8 8.4" fill="none" stroke="#fff" stroke-width="2.2"/><path d="M2290.7 1166.1a12.4 12.4 0 0 1 11.6 12.1" fill="none" stroke="#fff" stroke-width="2.2"/><text x="2306.4" y="1178.8" font-size="13.8" fill="#fff" textLength="103.6" lengthAdjust="spacingAndGlyphs" class="b">DATAREPORTAL</text></g>
<text x="1561.9" y="1134.59" font-size="15.8" fill="#ededed" text-anchor="middle" textLength="29" lengthAdjust="spacingAndGlyphs" stroke="#ededed" stroke-width="0.45" stroke-linejoin="round">1,869</text>
<text x="1561.9" y="1273.6" font-size="15" fill="#ededed" text-anchor="middle" textLength="28.8" lengthAdjust="spacingAndGlyphs" class="b" stroke="#ededed" stroke-width="0.4" stroke-linejoin="round">JAN</text>
<text x="1561.9" y="1290.6" font-size="15" fill="#ededed" text-anchor="middle" textLength="34" lengthAdjust="spacingAndGlyphs" class="b" stroke="#ededed" stroke-width="0.4" stroke-linejoin="round">2014</text>
<text x="1646.7" y="1121.69" font-size="15.8" fill="#ededed" text-anchor="middle" textLength="29" lengthAdjust="spacingAndGlyphs" stroke="#ededed" stroke-width="0.45" stroke-linejoin="round">2,094</text>
<text x="1646.7" y="1273.6" font-size="15" fill="#ededed" text-anchor="middle" textLength="28.8" lengthAdjust="spacingAndGlyphs" class="b" stroke="#ededed" stroke-width="0.4" stroke-linejoin="round">JAN</text>
<text x="1646.7" y="1290.6" font-size="15" fill="#ededed" text-anchor="middle" textLength="34" lengthAdjust="spacingAndGlyphs" class="b" stroke="#ededed" stroke-width="0.4" stroke-linejoin="round">2015</text>
<text x="1731.5" y="1108.72" font-size="15.8" fill="#ededed" text-anchor="middle" textLength="29" lengthAdjust="spacingAndGlyphs" stroke="#ededed" stroke-width="0.45" stroke-linejoin="round">2,320</text>
<text x="1731.5" y="1273.6" font-size="15" fill="#ededed" text-anchor="middle" textLength="28.8" lengthAdjust="spacingAndGlyphs" class="b" stroke="#ededed" stroke-width="0.4" stroke-linejoin="round">JAN</text>
<text x="1731.5" y="1290.6" font-size="15" fill="#ededed" text-anchor="middle" textLength="34" lengthAdjust="spacingAndGlyphs" class="b" stroke="#ededed" stroke-width="0.4" stroke-linejoin="round">2016</text>
<text x="1816.3" y="1080.96" font-size="15.8" fill="#ededed" text-anchor="middle" textLength="29" lengthAdjust="spacingAndGlyphs" stroke="#ededed" stroke-width="0.45" stroke-linejoin="round">2,804</text>
<text x="1816.3" y="1273.6" font-size="15" fill="#ededed" text-anchor="middle" textLength="28.8" lengthAdjust="spacingAndGlyphs" class="b" stroke="#ededed" stroke-width="0.4" stroke-linejoin="round">JAN</text>
<text x="1816.3" y="1290.6" font-size="15" fill="#ededed" text-anchor="middle" textLength="34" lengthAdjust="spacingAndGlyphs" class="b" stroke="#ededed" stroke-width="0.4" stroke-linejoin="round">2017</text>
<text x="1901.1" y="1057.56" font-size="15.8" fill="#ededed" text-anchor="middle" textLength="29" lengthAdjust="spacingAndGlyphs" stroke="#ededed" stroke-width="0.45" stroke-linejoin="round">3,212</text>
<text x="1901.1" y="1273.6" font-size="15" fill="#ededed" text-anchor="middle" textLength="28.8" lengthAdjust="spacingAndGlyphs" class="b" stroke="#ededed" stroke-width="0.4" stroke-linejoin="round">JAN</text>
<text x="1901.1" y="1290.6" font-size="15" fill="#ededed" text-anchor="middle" textLength="34" lengthAdjust="spacingAndGlyphs" class="b" stroke="#ededed" stroke-width="0.4" stroke-linejoin="round">2018</text>
<text x="1985.9" y="1042.3" font-size="15.8" fill="#ededed" text-anchor="middle" textLength="29" lengthAdjust="spacingAndGlyphs" stroke="#ededed" stroke-width="0.45" stroke-linejoin="round">3,478</text>
<text x="1985.9" y="1273.6" font-size="15" fill="#ededed" text-anchor="middle" textLength="28.8" lengthAdjust="spacingAndGlyphs" class="b" stroke="#ededed" stroke-width="0.4" stroke-linejoin="round">JAN</text>
<text x="1985.9" y="1290.6" font-size="15" fill="#ededed" text-anchor="middle" textLength="34" lengthAdjust="spacingAndGlyphs" class="b" stroke="#ededed" stroke-width="0.4" stroke-linejoin="round">2019</text>
<text x="2070.7" y="1028.08" font-size="15.8" fill="#ededed" text-anchor="middle" textLength="29" lengthAdjust="spacingAndGlyphs" stroke="#ededed" stroke-width="0.45" stroke-linejoin="round">3,726</text>
<text x="2070.7" y="1273.6" font-size="15" fill="#ededed" text-anchor="middle" textLength="28.8" lengthAdjust="spacingAndGlyphs" class="b" stroke="#ededed" stroke-width="0.4" stroke-linejoin="round">JAN</text>
<text x="2070.7" y="1290.6" font-size="15" fill="#ededed" text-anchor="middle" textLength="34" lengthAdjust="spacingAndGlyphs" class="b" stroke="#ededed" stroke-width="0.4" stroke-linejoin="round">2020</text>
<text x="2155.5" y="1000.08" font-size="15.8" fill="#ededed" text-anchor="middle" textLength="29" lengthAdjust="spacingAndGlyphs" stroke="#ededed" stroke-width="0.45" stroke-linejoin="round">4,214</text>
<text x="2155.5" y="1273.6" font-size="15" fill="#ededed" text-anchor="middle" textLength="28.8" lengthAdjust="spacingAndGlyphs" class="b" stroke="#ededed" stroke-width="0.4" stroke-linejoin="round">JAN</text>
<text x="2155.5" y="1290.6" font-size="15" fill="#ededed" text-anchor="middle" textLength="34" lengthAdjust="spacingAndGlyphs" class="b" stroke="#ededed" stroke-width="0.4" stroke-linejoin="round">2021</text>
<text x="2240.3" y="976.11" font-size="15.8" fill="#ededed" text-anchor="middle" textLength="29" lengthAdjust="spacingAndGlyphs" stroke="#ededed" stroke-width="0.45" stroke-linejoin="round">4,632</text>
<text x="2240.3" y="1273.6" font-size="15" fill="#ededed" text-anchor="middle" textLength="28.8" lengthAdjust="spacingAndGlyphs" class="b" stroke="#ededed" stroke-width="0.4" stroke-linejoin="round">JAN</text>
<text x="2240.3" y="1290.6" font-size="15" fill="#ededed" text-anchor="middle" textLength="34" lengthAdjust="spacingAndGlyphs" class="b" stroke="#ededed" stroke-width="0.4" stroke-linejoin="round">2022</text>
<text x="2325.1" y="968.19" font-size="15.8" fill="#ededed" text-anchor="middle" textLength="29" lengthAdjust="spacingAndGlyphs" stroke="#ededed" stroke-width="0.45" stroke-linejoin="round">4,770</text>
<text x="2325.1" y="1273.6" font-size="15" fill="#ededed" text-anchor="middle" textLength="28.8" lengthAdjust="spacingAndGlyphs" class="b" stroke="#ededed" stroke-width="0.4" stroke-linejoin="round">JAN</text>
<text x="2325.1" y="1290.6" font-size="15" fill="#ededed" text-anchor="middle" textLength="34" lengthAdjust="spacingAndGlyphs" class="b" stroke="#ededed" stroke-width="0.4" stroke-linejoin="round">2023</text>
<text x="2409.9" y="952.94" font-size="15.8" fill="#ededed" text-anchor="middle" textLength="29" lengthAdjust="spacingAndGlyphs" stroke="#ededed" stroke-width="0.45" stroke-linejoin="round">5,036</text>
<text x="2409.9" y="1273.6" font-size="15" fill="#ededed" text-anchor="middle" textLength="28.8" lengthAdjust="spacingAndGlyphs" class="b" stroke="#ededed" stroke-width="0.4" stroke-linejoin="round">JAN</text>
<text x="2409.9" y="1290.6" font-size="15" fill="#ededed" text-anchor="middle" textLength="34" lengthAdjust="spacingAndGlyphs" class="b" stroke="#ededed" stroke-width="0.4" stroke-linejoin="round">2024</text>
<ellipse cx="1604.2" cy="1248.8" rx="33.3" ry="33" fill="#212121"/>
<ellipse cx="1604.2" cy="1248.8" rx="28.65" ry="28.3" fill="#eee"/>
<text x="1604.2" y="1254" font-size="12" fill="#2b2b2b" text-anchor="middle" textLength="45.4" lengthAdjust="spacingAndGlyphs" class="b" stroke="#2b2b2b" stroke-width="0.4" stroke-linejoin="round">+12.0%</text>
<ellipse cx="1689" cy="1248.8" rx="33.3" ry="33" fill="#212121"/>
<ellipse cx="1689" cy="1248.8" rx="28.65" ry="28.3" fill="#eee"/>
<text x="1689" y="1254" font-size="12" fill="#2b2b2b" text-anchor="middle" textLength="45.4" lengthAdjust="spacingAndGlyphs" class="b" stroke="#2b2b2b" stroke-width="0.4" stroke-linejoin="round">+10.8%</text>
<ellipse cx="1773.8" cy="1248.8" rx="33.3" ry="33" fill="#212121"/>
<ellipse cx="1773.8" cy="1248.8" rx="28.65" ry="28.3" fill="#eee"/>
<text x="1773.8" y="1254" font-size="12" fill="#2b2b2b" text-anchor="middle" textLength="45.4" lengthAdjust="spacingAndGlyphs" class="b" stroke="#2b2b2b" stroke-width="0.4" stroke-linejoin="round">+20.9%</text>
<ellipse cx="1858.6" cy="1248.8" rx="33.3" ry="33" fill="#212121"/>
<ellipse cx="1858.6" cy="1248.8" rx="28.65" ry="28.3" fill="#eee"/>
<text x="1858.6" y="1254" font-size="12" fill="#2b2b2b" text-anchor="middle" textLength="45.4" lengthAdjust="spacingAndGlyphs" class="b" stroke="#2b2b2b" stroke-width="0.4" stroke-linejoin="round">+14.5%</text>
<ellipse cx="1943.4" cy="1248.8" rx="33.3" ry="33" fill="#212121"/>
<ellipse cx="1943.4" cy="1248.8" rx="28.65" ry="28.3" fill="#eee"/>
<text x="1943.4" y="1254" font-size="12" fill="#2b2b2b" text-anchor="middle" textLength="38.02" lengthAdjust="spacingAndGlyphs" class="b" stroke="#2b2b2b" stroke-width="0.4" stroke-linejoin="round">+8.3%</text>
<ellipse cx="2028.2" cy="1248.8" rx="33.3" ry="33" fill="#212121"/>
<ellipse cx="2028.2" cy="1248.8" rx="28.65" ry="28.3" fill="#eee"/>
<text x="2028.2" y="1254" font-size="12" fill="#2b2b2b" text-anchor="middle" textLength="38.02" lengthAdjust="spacingAndGlyphs" class="b" stroke="#2b2b2b" stroke-width="0.4" stroke-linejoin="round">+7.1%</text>
<ellipse cx="2113" cy="1248.8" rx="33.3" ry="33" fill="#212121"/>
<ellipse cx="2113" cy="1248.8" rx="28.65" ry="28.3" fill="#eee"/>
<text x="2113" y="1254" font-size="12" fill="#2b2b2b" text-anchor="middle" textLength="45.4" lengthAdjust="spacingAndGlyphs" class="b" stroke="#2b2b2b" stroke-width="0.4" stroke-linejoin="round">+13.1%</text>
<ellipse cx="2197.8" cy="1248.8" rx="33.3" ry="33" fill="#212121"/>
<ellipse cx="2197.8" cy="1248.8" rx="28.65" ry="28.3" fill="#eee"/>
<text x="2197.8" y="1254" font-size="12" fill="#2b2b2b" text-anchor="middle" textLength="38.02" lengthAdjust="spacingAndGlyphs" class="b" stroke="#2b2b2b" stroke-width="0.4" stroke-linejoin="round">+9.9%</text>
<ellipse cx="2282.6" cy="1248.8" rx="33.3" ry="33" fill="#212121"/>
<ellipse cx="2282.6" cy="1248.8" rx="28.65" ry="28.3" fill="#eee"/>
<text x="2282.6" y="1254" font-size="12" fill="#2b2b2b" text-anchor="middle" textLength="38.02" lengthAdjust="spacingAndGlyphs" class="b" stroke="#2b2b2b" stroke-width="0.4" stroke-linejoin="round">+3.0%</text>
<ellipse cx="2367.4" cy="1248.8" rx="33.3" ry="33" fill="#212121"/>
<ellipse cx="2367.4" cy="1248.8" rx="28.65" ry="28.3" fill="#eee"/>
<text x="2367.4" y="1254" font-size="12" fill="#2b2b2b" text-anchor="middle" textLength="38.02" lengthAdjust="spacingAndGlyphs" class="b" stroke="#2b2b2b" stroke-width="0.4" stroke-linejoin="round">+5.6%</text>
<ellipse cx="1535.6" cy="1334.1" rx="16.4" ry="16" fill="#9e9e9e"/>
<text x="1535.6" y="1337.5" font-size="9.6" fill="#212121" text-anchor="middle" textLength="18.7" lengthAdjust="spacingAndGlyphs" class="b">208</text>
<text x="1561.9" y="1330.9" font-size="7.2" textLength="681.1" lengthAdjust="spacingAndGlyphs" xml:space="preserve"><tspan fill="#f59100" class="b">SOURCES:</tspan><tspan fill="#7c7c7c"> KEPIOS ANALYSIS; COMPANY ADVERTISING RESOURCES AND ANNOUNCEMENTS; CNNIC; BETA RESEARCH CENTER; MEDIASCOPE; OCDH; ARAB SOCIAL MEDIA REPORT; TECHRASA; CAFEBAZAAR.</tspan></text>
<text x="1561.9" y="1340.7" font-size="7.2" textLength="630.1" lengthAdjust="spacingAndGlyphs" xml:space="preserve"><tspan fill="#f59100" class="b">ADVISORY:</tspan><tspan fill="#7c7c7c"> SOCIAL MEDIA USER IDENTITIES MAY NOT REPRESENT UNIQUE INDIVIDUALS.</tspan><tspan fill="#f59100" class="b"> COMPARABILITY:</tspan><tspan fill="#7c7c7c"> SOURCE AND METHODOLOGY CHANGES; BASE REVISIONS. SEE </tspan><tspan fill="#43a047">NOTES ON DATA</tspan><tspan fill="#7c7c7c">.</tspan></text>
<text x="2270.5" y="1326.7" font-size="16.3" fill="#ebebeb" textLength="24" lengthAdjust="spacingAndGlyphs" class="b">we</text><text x="2270.5" y="1338.2" font-size="16.3" fill="#ebebeb" textLength="27.9" lengthAdjust="spacingAndGlyphs" class="b">are</text><circle cx="2301.9" cy="1338.1" r="1.9" fill="#ebebeb"/><text x="2270.5" y="1349.5" font-size="16.3" fill="#ebebeb" textLength="47.5" lengthAdjust="spacingAndGlyphs" class="b">social</text>
<g fill="#ebebeb"><polygon points="2363,1333.6 2356.4,1327 2351.8,1327 2358.3,1333.6 2351.8,1340.3 2356.4,1340.3"/><polygon points="2329.8,1333.6 2336.4,1327 2341,1327 2334.5,1333.6 2341,1340.3 2336.4,1340.3"/><circle cx="2346.4" cy="1333.6" r="4.85" fill="none" stroke="#ebebeb" stroke-width="3.9"/></g><text x="2364.8" y="1340.2" font-size="17.2" fill="#ebebeb" textLength="82.9" lengthAdjust="spacingAndGlyphs">Meltwater</text></svg></figure>
</body></html>
